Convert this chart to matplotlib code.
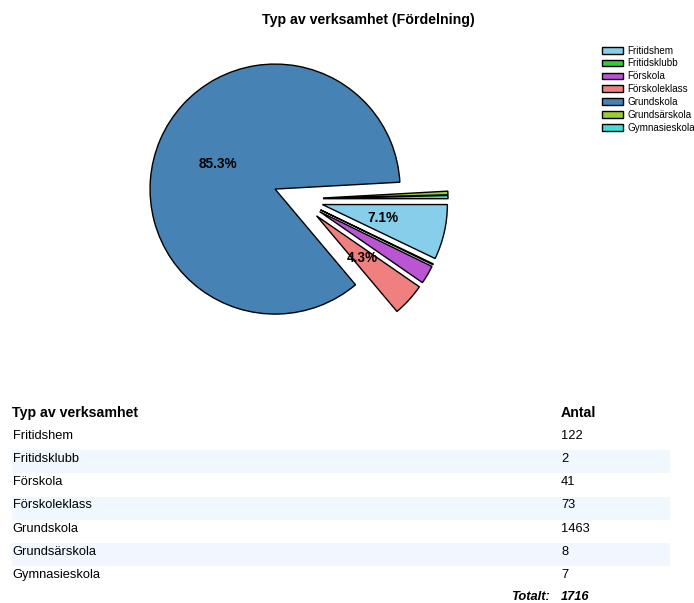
"""
Pie chart "Typ av verksamhet (Fördelning)" with the summary table below it.
"""

import matplotlib
import matplotlib.pyplot as plt
from matplotlib.patches import Rectangle

matplotlib.use("Agg")

plt.rcParams["font.family"] = ["Liberation Sans", "DejaVu Sans"]

# Data
categories = ["Fritidshem", "Fritidsklubb", "Förskola", "Förskoleklass",
              "Grundskola", "Grundsärskola", "Gymnasieskola"]
counts = [122, 2, 41, 73, 1463, 8, 7]
colors = ["#87CEEB", "#32CD32", "#BA55D3", "#F08080",
          "#4682B4", "#9ACD32", "#40E0D0"]
explode = [0.2] * len(counts)

TITLE = "Typ av verksamhet (Fördelning)"
COL_HEADERS = ["Typ av verksamhet", "Antal"]

# Figure geometry (pixels)
W, H = 694, 603
DPI = 100


def fx(px):
    return px / W


def fy(py):
    # py measured from the top
    return 1 - py / H


fig = plt.figure(figsize=(W / DPI, H / DPI), dpi=DPI)
fig.patch.set_facecolor("white")

# Pie panel
R_PX = 125          # radius in pixels
CX, CY = 298, 199   # centre in pixels
LIM = 1.5
side = 2 * LIM * R_PX
ax = fig.add_axes([fx(CX - side / 2), fy(CY + side / 2), side / W, side / H])

wedges, texts, autotexts = ax.pie(
    counts,
    colors=colors,
    explode=explode,
    startangle=0,
    counterclock=False,
    autopct=lambda p: f"{p:.1f}%" if p > 3 else "",
    pctdistance=0.5,
    wedgeprops={"edgecolor": "black", "linewidth": 1.0},
    textprops={"fontsize": 9.8, "fontweight": "bold", "color": "black"},
)
ax.set_xlim(-LIM, LIM)
ax.set_ylim(-LIM, LIM)
ax.set_aspect("equal")
ax.axis("off")

fig.text(fx(368), fy(20), TITLE, ha="center", va="center",
         fontsize=10.2, fontweight="bold")

fig.legend(wedges, categories, loc="upper left",
           bbox_to_anchor=(fx(602), fy(45.5)),
           frameon=False, fontsize=7.1, borderpad=0, borderaxespad=0,
           handlelength=2.1, handleheight=0.7, handletextpad=0.45,
           labelspacing=0.3)

# Table below the chart
X_LEFT, X_NUM, X_RIGHT = 12.5, 561, 670
HEADER_Y = 411.7
ROW0_Y = 434
ROW_H = 23.2
ROW_FS = 9.3

fig.text(fx(X_LEFT), fy(HEADER_Y + 5), COL_HEADERS[0], ha="left", va="baseline",
         fontsize=10.2, fontweight="bold")
fig.text(fx(X_NUM), fy(HEADER_Y + 5), COL_HEADERS[1], ha="left", va="baseline",
         fontsize=10.2, fontweight="bold")

for i, (cat, n) in enumerate(zip(categories, counts)):
    yc = ROW0_Y + i * ROW_H
    if i % 2 == 1:
        top = yc - 7
        fig.patches.append(Rectangle((fx(11.5), fy(top + ROW_H)), fx(X_RIGHT) - fx(11.5),
                                     ROW_H / H, transform=fig.transFigure,
                                     facecolor="#F0F7FF", edgecolor="none", zorder=0))
    fig.text(fx(X_LEFT), fy(yc + 4.7), cat, ha="left", va="baseline", fontsize=ROW_FS)
    fig.text(fx(X_NUM), fy(yc + 4.7), str(n), ha="left", va="baseline", fontsize=ROW_FS)

# totalrad, lite högre så att texten inte klipps i nederkanten
total_y = 595
fig.text(fx(550), fy(total_y + 4.5), "Totalt:", ha="right", va="baseline",
         fontsize=ROW_FS, fontweight="bold", fontstyle="italic")
fig.text(fx(X_NUM), fy(total_y + 4.5), str(sum(counts)), ha="left", va="baseline",
         fontsize=ROW_FS, fontweight="bold", fontstyle="italic")

fig.savefig("out.png", dpi=DPI, facecolor="white")
plt.close(fig)
